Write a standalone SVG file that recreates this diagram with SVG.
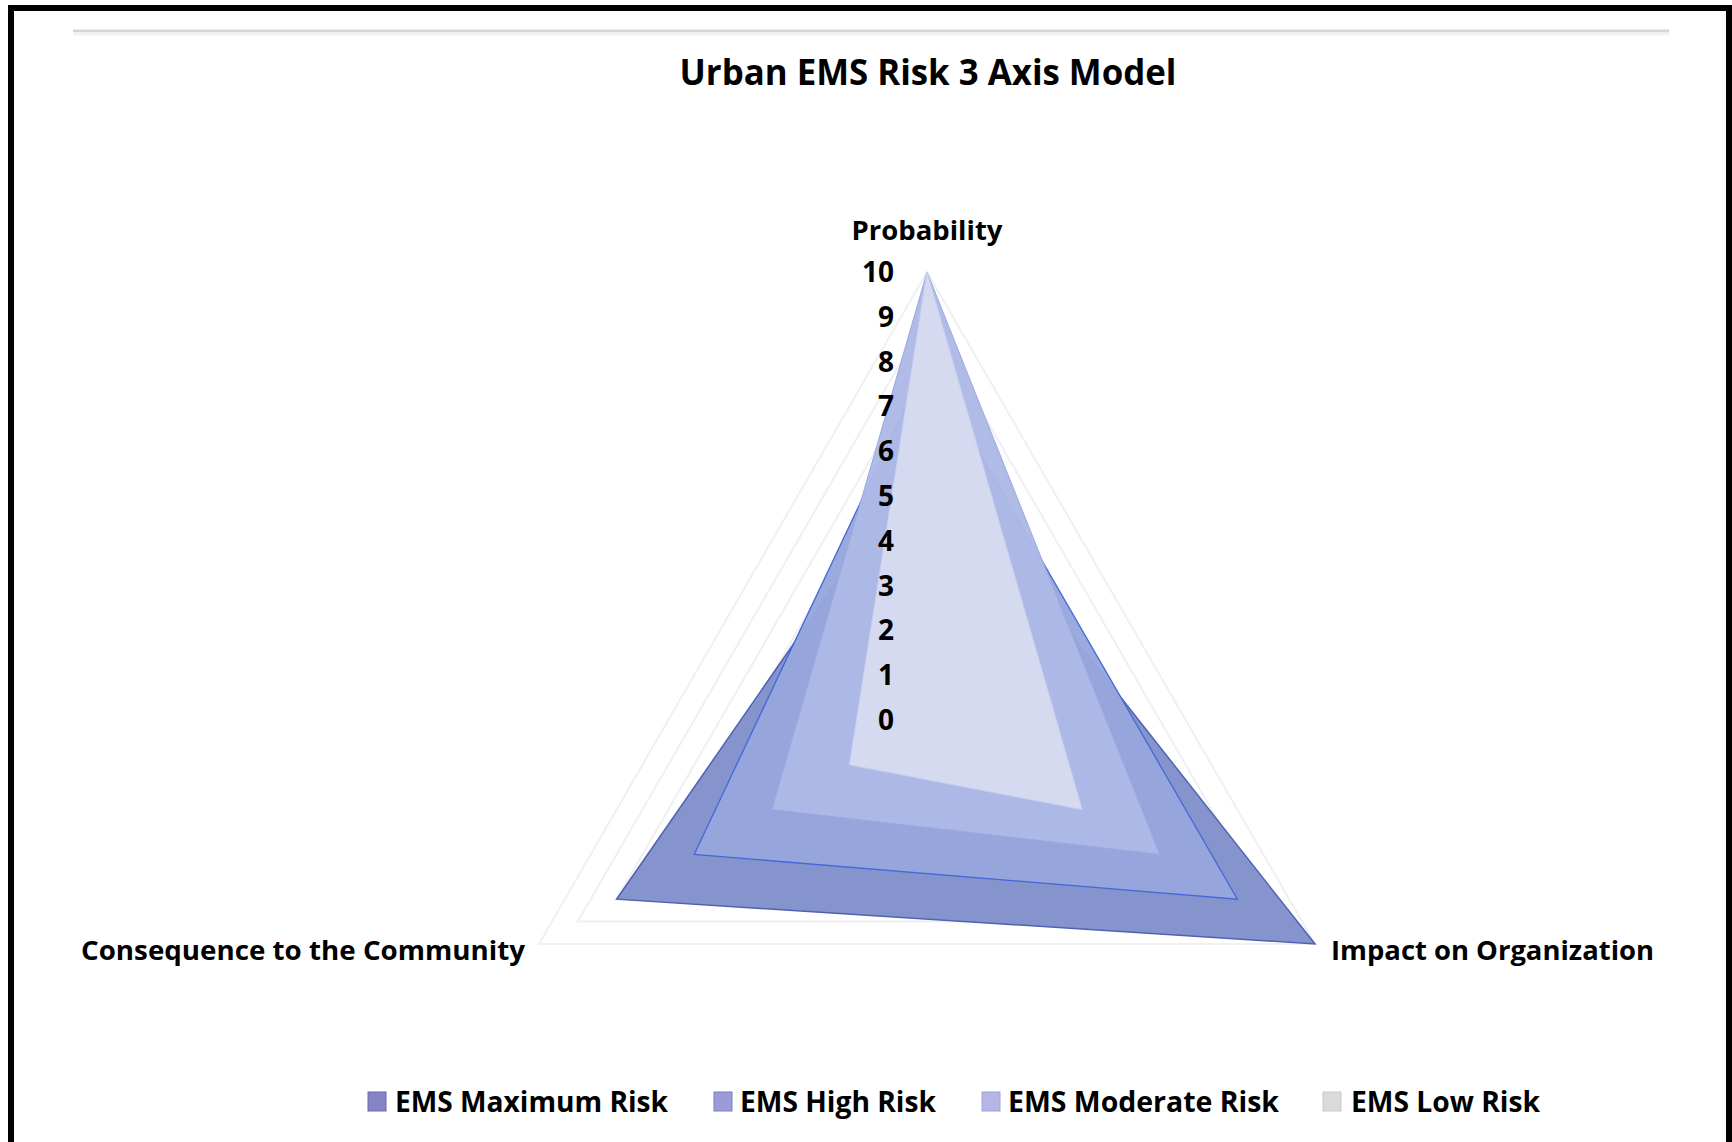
<svg xmlns="http://www.w3.org/2000/svg" width="1732" height="1142" viewBox="0 0 1732 1142">
  <style>
    text { font-family: "Open Sans", "Liberation Sans", sans-serif; font-weight: 700; fill: #000000; }
    .title { font-size: 35px; }
    .axis { font-size: 27px; }
    .tick { font-size: 28px; text-anchor: end; }
    .leg { font-size: 28px; }
    .grid { fill: none; stroke: #f0f0f3; stroke-width: 2; }
  </style>
  <rect x="0" y="0" width="1732" height="1142" fill="#ffffff"/>
  <rect id="frame" x="11" y="8" width="1718" height="1200" fill="none" stroke="#000000" stroke-width="6"/>
  <line id="top-rule" x1="73" y1="31" x2="1669" y2="31" stroke="#d6d6d6" stroke-width="3"/>
  <line x1="73" y1="34" x2="1669" y2="34" stroke="#f2f2f2" stroke-width="3"/>

  <text id="title" class="title" x="928" y="85" text-anchor="middle" textLength="497" lengthAdjust="spacingAndGlyphs">Urban EMS Risk 3 Axis Model</text>

  <g id="gridlines">
    <polygon class="grid" points="927,675.2 965.8,742.4 888.2,742.4"/>
    <polygon class="grid" points="927,630.4 1004.6,764.8 849.4,764.8"/>
    <polygon class="grid" points="927,585.6 1043.4,787.2 810.6,787.2"/>
    <polygon class="grid" points="927,540.8 1082.2,809.6 771.8,809.6"/>
    <polygon class="grid" points="927,496 1121,832 733,832"/>
    <polygon class="grid" points="927,451.2 1159.8,854.4 694.2,854.4"/>
    <polygon class="grid" points="927,406.4 1198.6,876.8 655.4,876.8"/>
    <polygon class="grid" points="927,361.6 1237.4,899.2 616.6,899.2"/>
    <polygon class="grid" points="927,316.8 1276.2,921.6 577.8,921.6"/>
    <polygon class="grid" points="927,272 1315,944 539,944"/>
  </g>

  <g id="series-max">
    <polygon points="927,451.2 1315,944 616.6,899.2" fill="#8594cc" stroke="#4f63b3" stroke-width="1.5"/>
  </g>
  <g id="series-high">
    <polygon points="927,361.6 1237.4,899.2 694.2,854.4" fill="#97a6dd" fill-opacity="0.97" stroke="#4468d8" stroke-width="1.3"/>
  </g>
  <g id="series-moderate">
    <polygon points="927,272 1159.8,854.4 771.8,809.6" fill="#adb8e6" fill-opacity="0.96" stroke="#9aa8df" stroke-width="1"/>
  </g>
  <g id="series-low">
    <polygon points="927,272 1082.2,809.6 849.4,764.8" fill="#d7dbf0" fill-opacity="0.95" stroke="#c8cfee" stroke-width="1"/>
  </g>

  <g id="axis-ticks">
    <text class="tick" x="894" y="282">10</text>
    <text class="tick" x="894" y="327">9</text>
    <text class="tick" x="894" y="372">8</text>
    <text class="tick" x="894" y="416">7</text>
    <text class="tick" x="894" y="461">6</text>
    <text class="tick" x="894" y="506">5</text>
    <text class="tick" x="894" y="551">4</text>
    <text class="tick" x="894" y="596">3</text>
    <text class="tick" x="894" y="640">2</text>
    <text class="tick" x="894" y="685">1</text>
    <text class="tick" x="894" y="730">0</text>
  </g>

  <g id="axis-probability">
    <text class="axis" x="927" y="240" text-anchor="middle" textLength="151" lengthAdjust="spacingAndGlyphs">Probability</text>
  </g>
  <g id="axis-consequence">
    <text class="axis" x="81" y="960" textLength="444" lengthAdjust="spacingAndGlyphs">Consequence to the Community</text>
  </g>
  <g id="axis-impact">
    <text class="axis" x="1331" y="960" textLength="323" lengthAdjust="spacingAndGlyphs">Impact on Organization</text>
  </g>

  <g id="legend">
    <g id="legend-max">
      <rect x="368" y="1092" width="18" height="19" fill="#8585c6" stroke="#6a6ab4" stroke-width="1"/>
      <text class="leg" x="395" y="1112" textLength="273" lengthAdjust="spacingAndGlyphs">EMS Maximum Risk</text>
    </g>
    <g id="legend-high">
      <rect x="714" y="1092" width="18" height="19" fill="#9b9bd6" stroke="#7c7cc2" stroke-width="1"/>
      <text class="leg" x="740" y="1112" textLength="196" lengthAdjust="spacingAndGlyphs">EMS High Risk</text>
    </g>
    <g id="legend-moderate">
      <rect x="982" y="1092" width="18" height="19" fill="#b6b6e6" stroke="#a2a2da" stroke-width="1"/>
      <text class="leg" x="1008" y="1112" textLength="271" lengthAdjust="spacingAndGlyphs">EMS Moderate Risk</text>
    </g>
    <g id="legend-low">
      <rect x="1323" y="1092" width="18" height="19" fill="#dadada" stroke="#cccccc" stroke-width="1"/>
      <text class="leg" x="1351" y="1112" textLength="189" lengthAdjust="spacingAndGlyphs">EMS Low Risk</text>
    </g>
  </g>
</svg>
